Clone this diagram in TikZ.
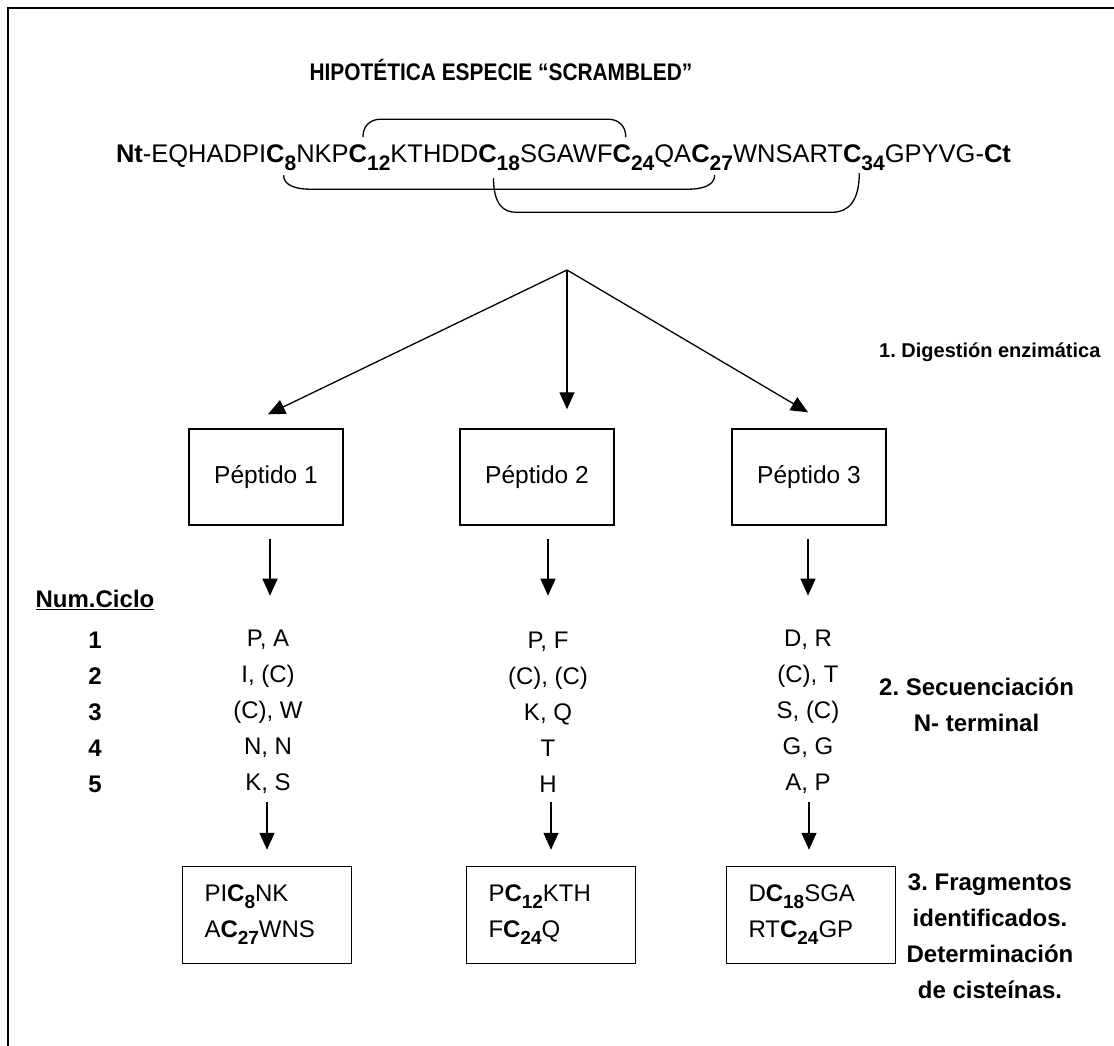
\documentclass[tikz,border=0pt]{standalone}
\usepackage{fontspec}
\setmainfont{Liberation Sans}
\usetikzlibrary{arrows.meta,calc}
\frenchspacing
\newcommand{\fsz}[2]{\fontsize{#1}{#2}\selectfont}
\newcommand{\sbn}[1]{\raisebox{-8pt}{\fsz{21}{21}\bfseries #1}}
\newcommand{\sbf}[1]{\raisebox{-7pt}{\fsz{19}{19}\bfseries #1}}
\newcommand{\cyst}[1]{\textbf{C}\sbf{#1}}
\begin{document}
\begin{tikzpicture}[x=1pt,y=-1pt,
  seq/.style={inner sep=0pt, outer sep=0pt, anchor=base west, font=\fsz{25.5}{28}},
  lbl/.style={inner sep=0pt, font=\fsz{24}{36}\bfseries, align=center},
  col/.style={inner sep=0pt, font=\fsz{24}{36}, align=center},
  pbox/.style={draw, line width=1.4pt, minimum width=154pt, minimum height=96pt, inner sep=0pt, font=\fsz{24.5}{28}},
  fbox/.style={draw, line width=1.4pt, minimum width=169pt, minimum height=97pt, inner xsep=22pt, inner ysep=0pt, text width=125pt, align=left, font=\fsz{24}{36}},
  arr/.style={line width=1.3pt, -{Triangle[length=17pt,width=15pt]}},
  brk/.style={line width=1.3pt}
]
\useasboundingbox (0,0) rectangle (1114,1046);
\begin{scope}
\clip (0,0) rectangle (1114,1046);
\draw[line width=2.6pt] (8,8) rectangle (1300,1300);
\end{scope}

% title
\node[inner sep=0pt, font=\fsz{24}{28}\bfseries] (title) at (501,70) {\scalebox{0.87}[1]{HIPOTÉTICA ESPECIE “SCRAMBLED”}};

% sequence
\node[seq] (s0) at (116,163) {\textbf{Nt}-EQHADPI};
\node[seq] (c8) at (s0.base east) {\textbf{C}};
\node[seq] (s1) at (c8.base east) {\sbn{8}NKP};
\node[seq] (c12) at (s1.base east) {\textbf{C}};
\node[seq] (s2) at (c12.base east) {\sbn{12}KTHDD};
\node[seq] (c18) at (s2.base east) {\textbf{C}};
\node[seq] (s3) at (c18.base east) {\sbn{18}SGAWF};
\node[seq] (c24) at (s3.base east) {\textbf{C}};
\node[seq] (s4) at (c24.base east) {\sbn{24}QA};
\node[seq] (c27) at (s4.base east) {\textbf{C}};
\node[seq] (s5) at (c27.base east) {\sbn{27}WNSART};
\node[seq] (c34) at (s5.base east) {\textbf{C}};
\node[seq] (s6) at (c34.base east) {\sbn{34}GPYVG-\textbf{Ct}};

% disulfide brackets
\coordinate (c12t) at ($(c12.north)+(5,-8)$);
\coordinate (c24t) at ($(c24.north)+(4,-8)$);
\coordinate (c8b) at ($(c8.south east)+(-1,12)$);
\coordinate (c27b) at ($(c27.south east)+(5,12)$);
\coordinate (c18b) at ($(c18.south)+(6,15)$);
\coordinate (c34b) at ($(c34.south)+(7,10)$);
\draw[brk] (c12t) .. controls +(0,-12) and +(-10,0) .. ($(c12t)+(18,-18)$) -- ($(c24t)+(-18,-18)$) .. controls +(10,0) and +(0,-12) .. (c24t);
\draw[brk] (c8b) .. controls +(0,10) and +(-15,0) .. ($(c8b)+(27,14)$) -- ($(c27b)+(-27,14)$) .. controls +(15,0) and +(0,10) .. (c27b);
\draw[brk] (c18b) .. controls +(0,26) and +(-12,0) .. ($(c18b)+(22,34)$) -- ($(c34b)+(-27,39)$) .. controls +(16,0) and +(0,28) .. (c34b);

% digestion arrows
\coordinate (apex) at (567,270);
\node[pbox] (p1) at (266,477) {Péptido 1};
\node[pbox] (p2) at (537,477) {Péptido 2};
\node[pbox] (p3) at (809,477) {Péptido 3};
\draw[arr] (apex) -- ($(p1.north)+(2,-14)$);
\draw[arr] (apex) -- ($(p2.north)+(30,-19)$);
\draw[arr] (apex) -- ($(p3.north)+(-1,-16)$);
\node[inner sep=0pt, font=\fsz{20}{24}\bfseries, anchor=west] (l1) at (879,352) {1. Digestión enzimática};

% sequencing
\node[col] (q1) at (268,712) {P, A\\I, (C)\\(C), W\\N, N\\K, S};
\node[col] (q2) at (548,712) {P, F\\(C), (C)\\K, Q\\T\\H};
\node[col] (q3) at (808,712) {D, R\\(C), T\\S, (C)\\G, G\\A, P};
\node[col, font=\fsz{24}{36}\bfseries] (nums) at (95,712) {1\\2\\3\\4\\5};
\node[inner sep=0pt, font=\fsz{24}{28}\bfseries] (nc) at (95,600) {\underline{Num.Ciclo}};
\node[lbl, anchor=north west, align=center] (l2) at (879,678) {2. Secuenciación\\N- terminal};

\coordinate (a1s) at ($(p1.south)+(4,13)$);
\coordinate (a2s) at ($(p2.south)+(11,13)$);
\coordinate (a3s) at ($(p3.south)+(-1,13)$);
\draw[arr] (a1s) -- ++(0,57);
\draw[arr] (a2s) -- ++(0,57);
\draw[arr] (a3s) -- ++(0,57);

% fragments
\node[fbox] (f1) at (267,915) {PI\cyst{8}NK\\A\cyst{27}WNS};
\node[fbox] (f2) at (551,915) {P\cyst{12}KTH\\F\cyst{24}Q};
\node[fbox] (f3) at (811,915) {D\cyst{18}SGA\\RT\cyst{24}GP};
\draw[arr] ($(f1.north)+(0,-64)$) -- ($(f1.north)+(0,-16)$);
\draw[arr] ($(f2.north)+(0,-64)$) -- ($(f2.north)+(0,-16)$);
\draw[arr] ($(f3.north)+(-2,-64)$) -- ($(f3.north)+(-2,-16)$);
\node[lbl] (l3) at (990,936) {3. Fragmentos\\identificados.\\Determinación\\de cisteínas.};
\end{tikzpicture}
\end{document}
